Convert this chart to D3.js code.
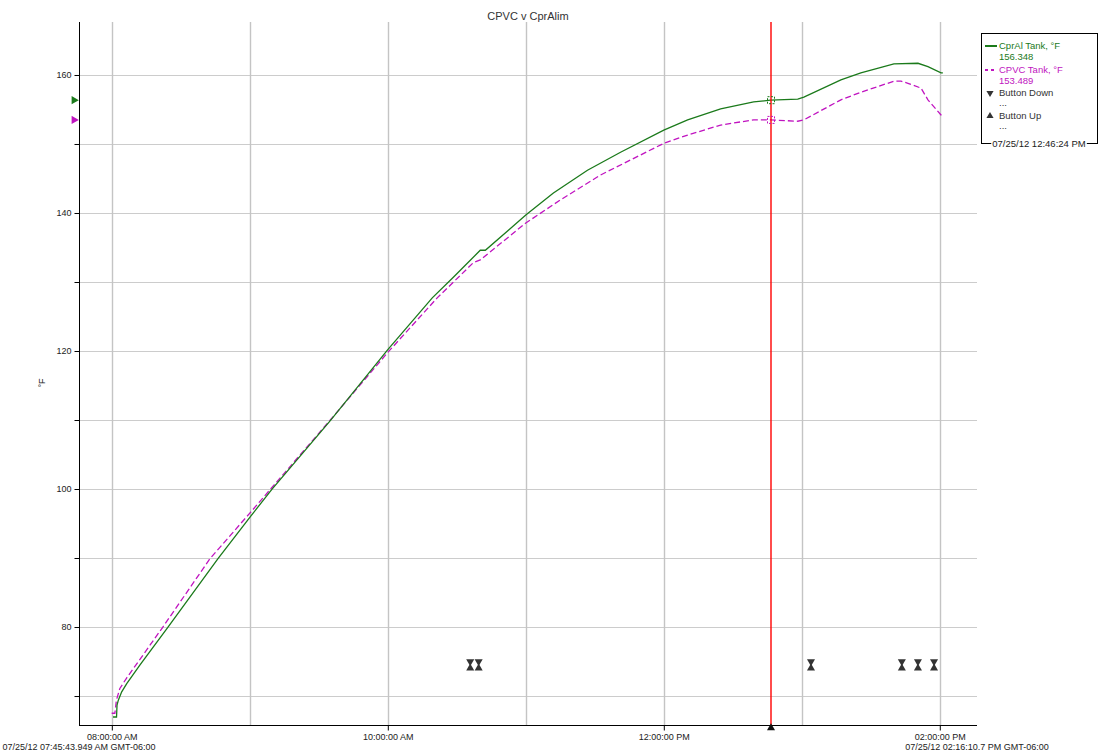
<!DOCTYPE html>
<html>
<head>
<meta charset="utf-8">
<script src="https://cdn.jsdelivr.net/npm/d3@7"></script>
<style>
  html, body { margin: 0; padding: 0; background: #fff; }
  svg { display: block; font-family: "Liberation Sans", Arial, sans-serif; }
</style>
</head>
<body>
<svg id="chart" width="1100" height="754"></svg>
<script>
// ---------- DATA ----------
const chartTitle = "CPVC v CprAlim";
const yAxisTitle = "°F";
const startStamp = "07:45:43.949";
const endStamp = "14:16:10.7";
const startLabel = "07/25/12 07:45:43.949 AM GMT-06:00";
const endLabel = "07/25/12 02:16:10.7 PM GMT-06:00";
const xTickTimes = ["08:00:00", "10:00:00", "12:00:00", "14:00:00"];
const xTickLabels = ["08:00:00 AM", "10:00:00 AM", "12:00:00 PM", "02:00:00 PM"];
const yTickValues = [70, 80, 90, 100, 110, 120, 130, 140, 150, 160];
const yTickLabels = ["", "80", "", "100", "", "120", "", "140", "", "160"];

const cprAlTimes = ["08:00:31","08:02:03","08:02:16","08:02:50","08:04:18","08:06:29","08:12:16","08:24:26","08:46:10","09:00:00","09:09:30","09:35:00","10:00:00","10:19:20","10:28:30","10:40:12","10:42:24","11:00:00","11:12:00","11:26:49","11:41:12","12:00:00","12:10:22","12:24:43","12:39:05","12:46:24","12:58:15","13:00:54","13:17:00","13:25:41","13:40:03","13:50:31","13:54:51","14:00:32","14:01:20"];
const cprAlValues = [66.96,66.96,68.7,69.4,70.6,71.8,74.5,80.0,89.9,95.9,99.9,109.9,120.2,127.7,130.7,134.6,134.6,139.7,142.9,146.2,148.8,152.0,153.5,155.1,156.1,156.348,156.5,156.8,159.3,160.3,161.6,161.7,161.2,160.3,160.3];

const cpvcTimes = ["07:59:56","08:01:20","08:02:00","08:03:30","08:06:25","08:12:00","08:22:12","08:42:40","09:00:00","09:08:48","09:35:00","10:00:00","10:21:29","10:37:12","10:40:12","11:00:00","11:15:04","11:32:28","12:00:00","12:10:22","12:24:43","12:39:05","12:46:24","12:58:15","13:00:54","13:17:00","13:25:41","13:40:03","13:43:08","13:46:10","13:51:50","13:54:51","14:00:32","14:01:10"];
const cpvcValues = [67.5,67.5,69.4,71.1,72.6,75.2,80.0,89.9,96.5,99.9,110.0,119.8,127.7,132.8,133.2,138.55,141.9,145.5,150.1,151.3,152.75,153.5,153.489,153.3,153.5,156.4,157.5,159.1,159.1,158.8,158.1,156.4,154.2,153.9];

const buttonDownTimes = ["10:35:50","10:39:30","13:04:00","13:43:30","13:50:30","13:57:30"];
const buttonUpTimes   = ["10:35:50","10:39:30","13:04:00","13:43:30","13:50:30","13:57:30"];

const cursorTime = "12:46:24";
const cursorLabel = "07/25/12 12:46:24 PM";
const seriesNames = ["CprAl Tank, °F", "CPVC Tank, °F"];
const cursorValues = ["156.348", "153.489"];

(function () {
function t(s) {
  const p = s.split(":");
  const sec = parseFloat(p[2]);
  const ms = Math.round((sec - Math.floor(sec)) * 1000);
  return new Date(2012, 6, 25, +p[0], +p[1], Math.floor(sec), ms);
}

const GREEN = "#1b7a1b";
const MAGENTA = "#c014c0";
const pL = 79, pR = 977, pT = 22, pB = 725;
const markerLevel = 74.5;

const svg = d3.select("#chart");
const x = d3.scaleTime().domain([t(startStamp), t(endStamp)]).range([pL, pR]);
const y = d3.scaleLinear().domain([65.8, 167.68]).range([pB, pT]);

// grid
const grid = svg.append("g");
grid.selectAll("line.h").data(yTickValues).join("line")
  .attr("x1", pL).attr("x2", pR)
  .attr("y1", d => Math.round(y(d)) + 0.5).attr("y2", d => Math.round(y(d)) + 0.5)
  .attr("stroke", "#cccccc").attr("stroke-width", 1);
const hourTicks = x.ticks(d3.timeHour.every(1));
grid.selectAll("line.v").data(hourTicks).join("line")
  .attr("x1", d => Math.round(x(d)) + 0.5).attr("x2", d => Math.round(x(d)) + 0.5)
  .attr("y1", pT).attr("y2", pB)
  .attr("stroke", "#c4c4c4").attr("stroke-width", 1.4);

// title
svg.append("text").attr("x", (pL + pR) / 2).attr("y", 20)
  .attr("text-anchor", "middle").attr("font-size", 11).attr("fill", "#333")
  .text(chartTitle);

// y axis
const yAxis = d3.axisLeft(y).tickValues(yTickValues)
  .tickFormat((d, i) => yTickLabels[i]).tickSize(5).tickPadding(3);
const gy = svg.append("g").attr("transform", `translate(${pL + 0.5},0)`).call(yAxis);
gy.select(".domain").attr("d", `M0,${pT}V${pB}`).attr("stroke", "#000");
gy.selectAll(".tick line").attr("stroke", "#000");
gy.selectAll(".tick text").attr("font-size", 9).attr("fill", "#222")
  .attr("font-family", "Liberation Sans, Arial, sans-serif");

svg.append("text").attr("transform", `translate(45,383) rotate(-90)`)
  .attr("text-anchor", "middle").attr("font-size", 9).attr("fill", "#222").text(yAxisTitle);

// x axis
const xAxis = d3.axisBottom(x).tickValues(xTickTimes.map(t))
  .tickFormat((d, i) => xTickLabels[i]).tickSize(5).tickPadding(3);
const gx = svg.append("g").attr("transform", `translate(0,${pB + 0.5})`).call(xAxis);
gx.select(".domain").attr("d", `M${pL},0H${pR}`).attr("stroke", "#000");
gx.selectAll(".tick line").attr("stroke", "#000");
gx.selectAll(".tick text").attr("font-size", 9).attr("fill", "#222")
  .attr("font-family", "Liberation Sans, Arial, sans-serif");

svg.append("text").attr("x", pL).attr("y", 750).attr("text-anchor", "middle")
  .attr("font-size", 9).attr("fill", "#222").text(startLabel);
svg.append("text").attr("x", pR).attr("y", 750).attr("text-anchor", "middle")
  .attr("font-size", 9).attr("fill", "#222").text(endLabel);

// lines
const cprAl = cprAlTimes.map((s, i) => ({ t: t(s), v: cprAlValues[i] }));
const cpvc = cpvcTimes.map((s, i) => ({ t: t(s), v: cpvcValues[i] }));
const line = d3.line().x(d => x(d.t)).y(d => y(d.v));

svg.append("path").datum(cpvc).attr("d", line).attr("fill", "none")
  .attr("stroke", MAGENTA).attr("stroke-width", 1.3).attr("stroke-dasharray", "6,3");
svg.append("path").datum(cprAl).attr("d", line).attr("fill", "none")
  .attr("stroke", GREEN).attr("stroke-width", 1.3);

// button markers
const sym = d3.symbol().type(d3.symbolTriangle).size(28);
const ym = y(markerLevel);
svg.selectAll("path.bd").data(buttonDownTimes).join("path")
  .attr("d", sym)
  .attr("transform", d => `translate(${x(t(d))},${ym - 3.3}) rotate(180)`)
  .attr("fill", "#333");
svg.selectAll("path.bu").data(buttonUpTimes).join("path")
  .attr("d", sym)
  .attr("transform", d => `translate(${x(t(d))},${ym + 3.3})`)
  .attr("fill", "#333");

// cursor
const cx = Math.round(x(t(cursorTime)));
svg.append("line").attr("x1", cx).attr("x2", cx).attr("y1", pT).attr("y2", pB)
  .style("stroke", "#ff0000").style("stroke-width", "1.4px");
svg.append("path").attr("d", sym).attr("transform", `translate(${cx},${pB + 3})`).attr("fill", "#111");

// cursor squares
[[+cursorValues[0], GREEN], [+cursorValues[1], MAGENTA]].forEach(([v, c]) => {
  svg.append("rect").attr("x", cx - 3.5).attr("y", y(v) - 3.5).attr("width", 7).attr("height", 7)
    .attr("fill", "none").attr("stroke", c).attr("stroke-width", 1).attr("stroke-dasharray", "2,1.5");
});

// left value arrows
const rsym = d3.symbol().type(d3.symbolTriangle).size(30);
[[+cursorValues[0], GREEN], [+cursorValues[1], MAGENTA]].forEach(([v, c]) => {
  svg.append("path").attr("d", rsym)
    .attr("transform", `translate(${pL - 5},${y(v)}) rotate(90)`).attr("fill", c);
});

// legend
const lg = svg.append("g");
lg.append("rect").attr("x", 981.5).attr("y", 33.5).attr("width", 116).attr("height", 110)
  .attr("fill", "#fff").attr("stroke", "#000").attr("stroke-width", 1);
const lx = 999, fs = 9.5;
lg.append("line").attr("x1", 985).attr("x2", 997).attr("y1", 46).attr("y2", 46)
  .attr("stroke", GREEN).attr("stroke-width", 2);
lg.append("text").attr("x", lx).attr("y", 49).attr("font-size", fs).attr("fill", GREEN).text(seriesNames[0]);
lg.append("text").attr("x", lx).attr("y", 60).attr("font-size", fs).attr("fill", GREEN).text(cursorValues[0]);
lg.append("line").attr("x1", 985).attr("x2", 997).attr("y1", 70).attr("y2", 70)
  .attr("stroke", MAGENTA).attr("stroke-width", 2).attr("stroke-dasharray", "3,3");
lg.append("text").attr("x", lx).attr("y", 73).attr("font-size", fs).attr("fill", MAGENTA).text(seriesNames[1]);
lg.append("text").attr("x", lx).attr("y", 84).attr("font-size", fs).attr("fill", MAGENTA).text(cursorValues[1]);
const lsym = d3.symbol().type(d3.symbolTriangle).size(22);
lg.append("path").attr("d", lsym).attr("transform", "translate(990,93) rotate(180)").attr("fill", "#333");
lg.append("text").attr("x", lx).attr("y", 96).attr("font-size", fs).attr("fill", "#333").text("Button Down");
lg.append("text").attr("x", lx).attr("y", 106).attr("font-size", fs).attr("fill", "#333").text("...");
lg.append("path").attr("d", lsym).attr("transform", "translate(990,116)").attr("fill", "#333");
lg.append("text").attr("x", lx).attr("y", 119).attr("font-size", fs).attr("fill", "#333").text("Button Up");
lg.append("text").attr("x", lx).attr("y", 129).attr("font-size", fs).attr("fill", "#333").text("...");
const bgRect = lg.append("rect").attr("fill", "#fff");
const dt = lg.append("text").attr("x", 1039).attr("y", 146.5).attr("text-anchor", "middle")
  .attr("font-size", fs).attr("fill", "#222").text(cursorLabel);
const bb = dt.node().getBBox();
bgRect.attr("x", bb.x - 1).attr("y", 140).attr("width", bb.width + 2).attr("height", 6);
})();
</script>
</body>
</html>
